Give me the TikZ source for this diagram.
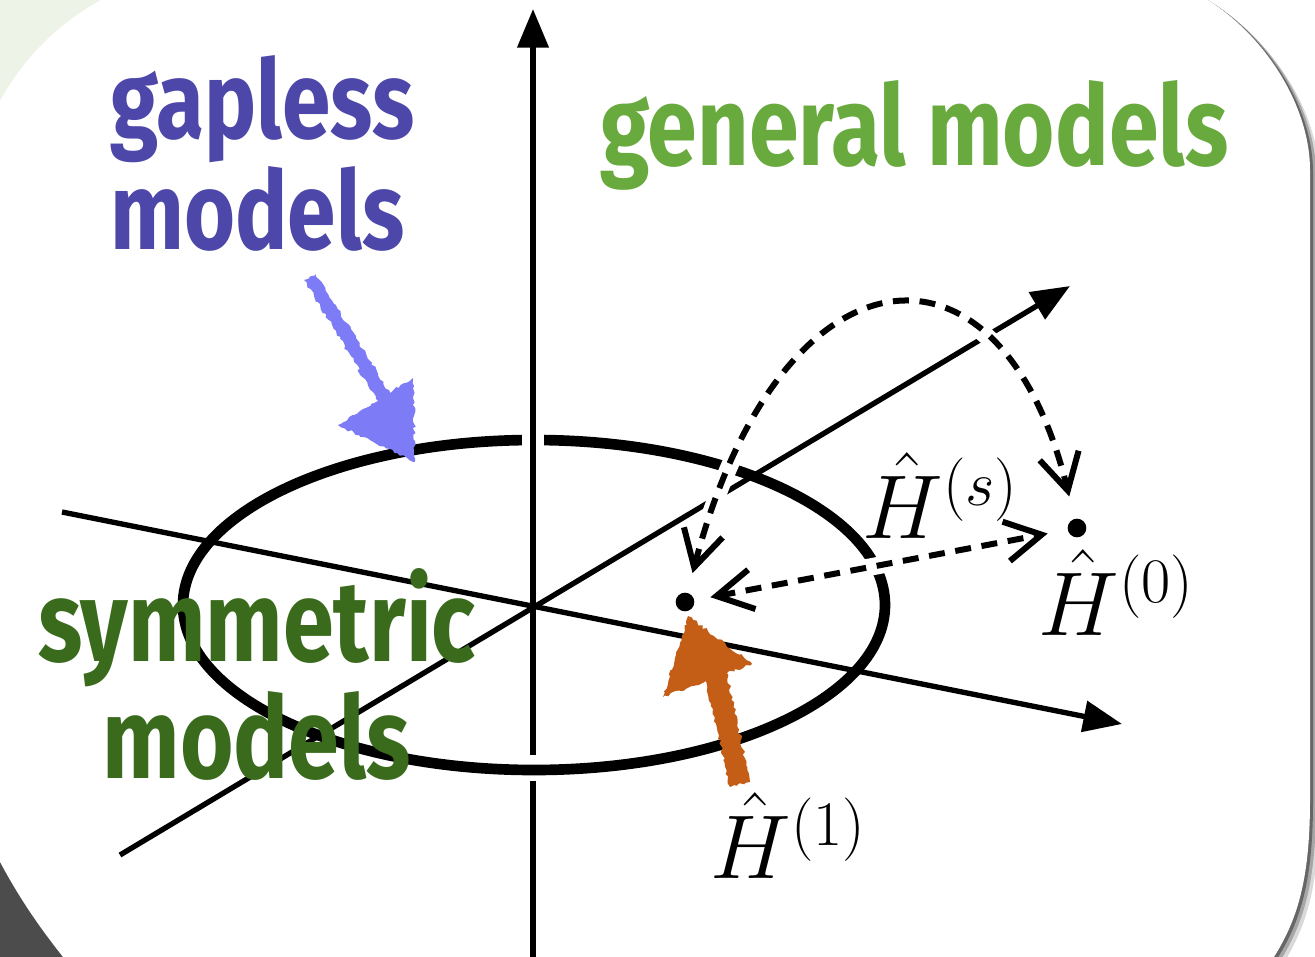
\documentclass[tikz,border=0pt]{standalone}
\usepackage{fix-cm}
\usepackage{fontspec}
\newfontfamily\handfont{Fira Sans}[FakeStretch=0.8]
\usetikzlibrary{arrows.meta,decorations.pathmorphing}

\definecolor{gapblue}{RGB}{77,71,170}
\definecolor{gaparrow}{RGB}{125,124,246}
\definecolor{genegreen}{RGB}{104,170,61}
\definecolor{symgreen}{RGB}{58,107,29}
\definecolor{hcolor}{RGB}{196,94,23}
\definecolor{cornergreen}{RGB}{238,243,232}

\newcommand\cardpath{(-30,220) .. controls (-30,82) and (82,-30) .. (220,-30) -- (1110,-30) .. controls (1220,-30) and (1310,80) .. (1310,170) -- (1310,800) .. controls (1310,900) and (1290,940) .. (1250,990) -- (90,990) .. controls (40,930) and (10,890) .. (-30,800) -- cycle}

\tikzset{every picture/.style={line width=0.75pt}}
\tikzset{
  axis/.style={line width=4pt},
  axistip/.style={-{Triangle[length=29pt,width=23pt]}},
  ring/.style={line width=8pt},
  flow/.style={line width=4.5pt, dash pattern={on 12pt off 8pt},
    {Straight Barb[length=27pt,width=30pt]}-{Straight Barb[length=27pt,width=30pt]},
    preaction={draw=white, solid, line width=13pt, -}},
  dot/.style={circle, fill=black, inner sep=0pt, minimum size=14pt},
  hand/.style={inner sep=0pt, font=\handfont\bfseries\fontsize{82}{83}\selectfont},
  ham/.style={inner sep=0pt, anchor=base west, font=\fontsize{68}{72}\selectfont},
  rough/.style={decorate, decoration={random steps, segment length=2.5pt, amplitude=1.2pt}},
}

\begin{document}
\begin{tikzpicture}[x=0.75pt,y=0.75pt,yscale=-1,xscale=1]
\useasboundingbox (0,0) rectangle (1315,957);
\clip (0,0) rectangle (1315,957);

% background and card
\fill[white] (0,0) rectangle (1315,957);
\fill[cornergreen] (0,0) rectangle (400,400);
\fill[black!70] (0,700) rectangle (300,957);
\fill[black!15, shift={(9,7)}] \cardpath;
\fill[black!35, shift={(6,4)}] \cardpath;
\fill[black!60, shift={(3,2)}] \cardpath;
\fill[white] \cardpath;

% axes
\coordinate (o) at (533,607);
\coordinate (ybot) at (533,960);
\coordinate (ytop) at (533,9);
\coordinate (a1) at (62,512);
\coordinate (a2) at (1122,724);
\coordinate (b1) at (120,855);
\coordinate (b2) at (1070,286);

\draw[axis] (ybot) -- (o);
\fill[white] (527,755) rectangle (539,781);
\draw[ring] (534,605) ellipse [x radius=351, y radius=165];
\fill[white] (522,428) rectangle (544,454);
\draw[axis, axistip] (o) -- (ytop);
\draw[axis, axistip] (a1) -- (a2);
\draw[axis, axistip] (b1) -- (b2);

% hamiltonians
\node[dot] (h1) at (685,602) {};
\node[dot] (h0) at (1077,528) {};

\draw[flow, shorten <=15pt, shorten >=17pt] (h1) .. controls (780,240) and (1000,215) .. (h0);
\draw[flow, shorten <=12pt, shorten >=15pt] (h1) -- (h0);

\node[ham] (hs) at (862,538) {$\hat{H}^{(s)}$};
\node[ham] (hzero) at (1038,635) {$\hat{H}^{(0)}$};
\node[ham] (hone) at (710,878) {$\hat{H}^{(1)}$};

% hand drawn arrows
\fill[gaparrow, rough] (304,280) -- (378,401) -- (338,425) -- (415,462) -- (413,378) -- (390,393) -- (316,274) -- cycle;
\fill[hcolor, rough] (730,787) -- (706,681) -- (663,697) -- (688,616) -- (752,664) -- (727,673) -- (750,782) -- cycle;

% labels
\node[hand, text=gapblue, anchor=north west, align=left] (gapless) at (110,55) {gapless\\models};
\node[hand, text=genegreen, anchor=north west, font=\handfont\bfseries\fontsize{84}{86}\selectfont] (general) at (600,80) {general models};
\node[hand, text=symgreen, anchor=north, align=center, font=\handfont\bfseries\fontsize{86}{88}\selectfont] (symmetric) at (257,568) {symmetric\\models};

\end{tikzpicture}
\end{document}
